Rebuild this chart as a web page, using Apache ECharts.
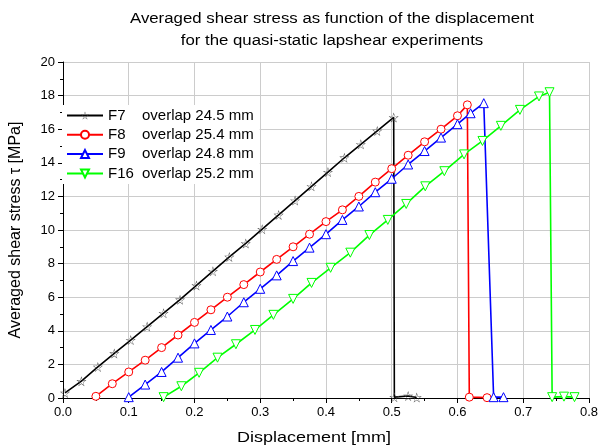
<!DOCTYPE html>
<html>
<head>
<meta charset="utf-8">
<script src="https://cdn.jsdelivr.net/npm/echarts@6/dist/echarts.min.js"></script>
<style>html,body{margin:0;padding:0;background:#fff}#c{width:601px;height:446px}</style>
</head>
<body>
<div id="c"></div>
<script>
const titleLines = ['Averaged shear stress as function of the displacement', 'for the quasi-static lapshear experiments'];
const xTitle = 'Displacement [mm]';
const yTitle = 'Averaged shear stress \u03c4 [MPa]';
const seriesNames = ['F7', 'F8', 'F9', 'F16'];
const overlaps = ['24.5', '25.4', '24.8', '25.2'];

const f7Disp = [0.003,0.028,0.053,0.078,0.103,0.128,0.153,0.178,0.203,0.228,0.253,0.278,0.303,0.328,0.353,0.378,0.403,0.428,0.453,0.478,0.503,0.504,0.525,0.538];
const f7Stress = [0.3,1.0,1.85,2.65,3.45,4.25,5.05,5.85,6.7,7.55,8.4,9.2,10.05,10.9,11.75,12.6,13.45,14.3,15.1,15.9,16.7,0.05,0.12,0.03];

const f8Disp = [0.05,0.075,0.1,0.125,0.15,0.175,0.2,0.225,0.25,0.275,0.3,0.325,0.35,0.375,0.4,0.425,0.45,0.475,0.5,0.525,0.55,0.575,0.6,0.615,0.618,0.645];
const f8Stress = [0.1,0.85,1.55,2.25,3.0,3.75,4.5,5.25,6.0,6.75,7.5,8.25,9.0,9.75,10.5,11.2,12.0,12.85,13.65,14.45,15.25,16.0,16.8,17.45,0.05,0.02];

const f9Disp = [0.1,0.125,0.15,0.175,0.2,0.225,0.25,0.275,0.3,0.325,0.35,0.375,0.4,0.425,0.45,0.475,0.5,0.525,0.55,0.575,0.6,0.62,0.64,0.655,0.67];
const f9Stress = [0.05,0.8,1.55,2.4,3.25,4.05,4.85,5.7,6.5,7.3,8.15,8.95,9.75,10.6,11.4,12.25,13.05,13.9,14.7,15.5,16.3,16.95,17.55,0.05,0.05];

const f16Disp = [0.153,0.18,0.207,0.235,0.263,0.292,0.32,0.35,0.378,0.407,0.437,0.466,0.494,0.522,0.551,0.58,0.61,0.638,0.666,0.695,0.724,0.74,0.744,0.762,0.778];
const f16Stress = [0.05,0.7,1.5,2.4,3.2,4.05,4.95,5.9,6.85,7.75,8.65,9.7,10.6,11.55,12.6,13.5,14.5,15.3,16.2,17.15,17.95,18.2,0.05,0.08,0.05];

const xTicks = ['0.0','0.1','0.2','0.3','0.4','0.5','0.6','0.7','0.8'];

const colors = ['#000000', '#ff0000', '#0000ff', '#00ff00'];
const symbols = [
  'path://M50,0 L61,35 L98,35 L68,57 L79,91 L50,70 L21,91 L32,57 L2,35 L39,35 Z M50,14 L41.3,38 L13.4,38 L35.6,55.6 L27,81.7 L50,65 L73,81.7 L64.4,55.6 L86.6,38 L58.7,38 Z',
  'circle',
  'triangle',
  'path://M0,0 L100,0 L50,90 Z'
];
const allDisp = [f7Disp, f8Disp, f9Disp, f16Disp];
const allStress = [f7Stress, f8Stress, f9Stress, f16Stress];

const chart = echarts.init(document.getElementById('c'), null, {renderer: 'canvas'});
const FONT = '"Liberation Sans", Arial, sans-serif';

const series = seriesNames.map((name, i) => ({
  name: name,
  type: 'line',
  data: allDisp[i].map((x, j) => [x, allStress[i][j]]),
  symbol: symbols[i],
  symbolSize: i === 0 ? 10 : (i === 1 ? 8 : 9),
  showSymbol: true,
  showAllSymbol: true,
  lineStyle: {color: colors[i], width: 1.6},
  itemStyle: i === 0
    ? {color: '#444444', borderWidth: 0}
    : {color: '#ffffff', borderColor: colors[i], borderWidth: 1},
  emphasis: {disabled: true},
  animation: false,
  z: 3
}));

chart.setOption({
  animation: false,
  backgroundColor: '#ffffff',
  graphic: [{
    type: 'text',
    x: 332, y: 8,
    scaleX: 1.2,
    style: {
      text: titleLines.join('\n'),
      font: '14px ' + FONT,
      fill: '#000',
      align: 'center', textAlign: 'center',
      verticalAlign: 'top',
      lineHeight: 22
    }
  }, {
    type: 'text',
    x: 314, y: 430,
    scaleX: 1.2,
    style: {
      text: xTitle,
      font: '15px ' + FONT,
      fill: '#000',
      align: 'center', textAlign: 'center',
      verticalAlign: 'top'
    }
  }],
  grid: {left: 61, right: 4, top: 62, bottom: 48, containLabel: false},
  legend: {
    orient: 'vertical',
    left: 62, top: 105,
    itemWidth: 36, itemHeight: 10, itemGap: 4.3,
    backgroundColor: '#ffffff',
    padding: [3, 6, 3, 4],
    data: seriesNames,
    formatter: function (name) {
      const i = seriesNames.indexOf(name);
      return '{n|' + name + '}{o|overlap ' + overlaps[i] + ' mm}';
    },
    textStyle: {
      fontFamily: FONT, fontSize: 15, color: '#000',
      rich: {
        n: {width: 34, fontFamily: FONT, fontSize: 15, color: '#000', lineHeight: 16},
        o: {fontFamily: FONT, fontSize: 15, color: '#000', lineHeight: 16}
      }
    }
  },
  xAxis: {
    type: 'value', min: 0, max: 0.8, interval: 0.1,
    axisLine: {show: true, onZero: false, lineStyle: {color: '#000', width: 1}},
    axisTick: {show: true, inside: false, length: 5, lineStyle: {color: '#000'}},
    minorTick: {show: true, splitNumber: 2, length: 3, lineStyle: {color: '#000'}},
    axisLabel: {fontFamily: FONT, fontSize: 13, color: '#000', margin: 8,
      formatter: (v) => xTicks[Math.round(v * 10)] },
    splitLine: {show: true, lineStyle: {color: '#cccccc', width: 1}}
  },
  yAxis: {
    type: 'value', min: 0, max: 20, interval: 2,
    name: yTitle, nameLocation: 'middle', nameGap: 39,
    nameTextStyle: {fontFamily: FONT, fontSize: 16, color: '#000'},
    axisLine: {show: true, onZero: false, lineStyle: {color: '#000', width: 1}},
    axisTick: {show: true, inside: false, length: 5, lineStyle: {color: '#000'}},
    minorTick: {show: true, splitNumber: 2, length: 3, lineStyle: {color: '#000'}},
    axisLabel: {fontFamily: FONT, fontSize: 13, color: '#000', margin: 8},
    splitLine: {show: true, lineStyle: {color: '#cccccc', width: 1}}
  },
  series: series
});
</script>
</body>
</html>
